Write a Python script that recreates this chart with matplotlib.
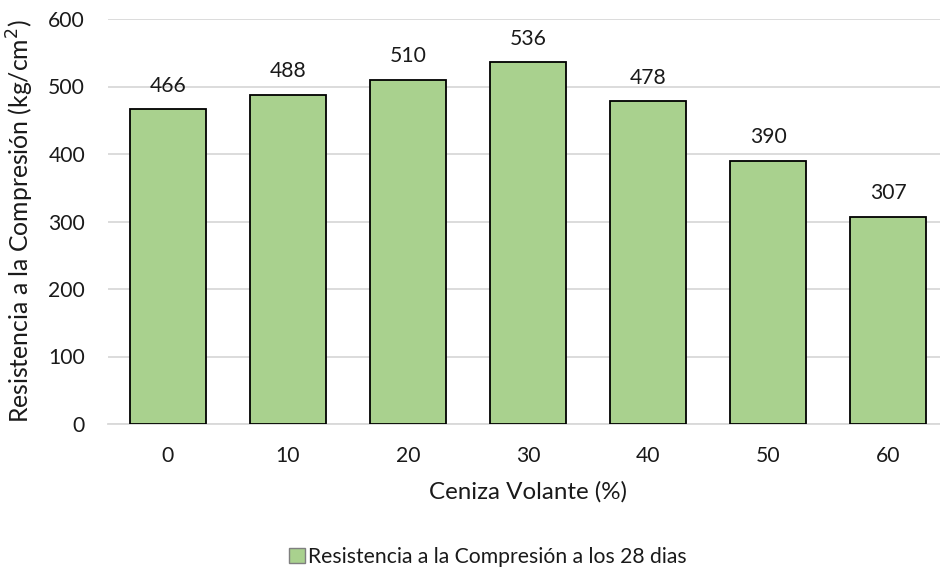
import matplotlib
matplotlib.use("Agg")
import matplotlib.pyplot as plt
from matplotlib.patches import Patch

categories = ["0", "10", "20", "30", "40", "50", "60"]
values = [466, 488, 510, 536, 478, 390, 307]
yticks = [0, 100, 200, 300, 400, 500, 600]
series_name = "Resistencia a la Compresión a los 28 dias"

plt.rcParams['font.family'] = ['Lato', 'DejaVu Sans']
TXT = '#1a1a1a'

fig = plt.figure(figsize=(9.4, 5.76), dpi=100)
ax = fig.add_axes([108/940, 1-424/576, 840/940, 405/576])

x = list(range(len(categories)))
ax.bar(x, values, width=0.633, color='#A9D18E', edgecolor='black', linewidth=1.3, zorder=3)
for xi, v in zip(x, values):
    ax.annotate(str(v), (xi, v), xytext=(0, 12.5), textcoords='offset points',
                ha='center', va='baseline', fontsize=15.2, color=TXT)

ax.set_xlim(-0.5, len(categories) - 0.5)
ax.set_ylim(0, 600)
ax.set_yticks(yticks)
ax.set_xticks(x)
ax.set_xticklabels(categories)
ax.yaxis.grid(True, color='#D9D9D9', linewidth=1.3, zorder=0)
ax.set_axisbelow(True)
for s in ['top', 'right', 'left']:
    ax.spines[s].set_visible(False)
ax.spines['bottom'].set_color('#D9D9D9')
ax.spines['bottom'].set_linewidth(1.3)
ax.tick_params(axis='both', length=0, labelsize=15.2, colors=TXT)
ax.tick_params(axis='y', pad=16.5)
ax.tick_params(axis='x', pad=16)
ax.set_xlabel("Ceniza Volante (%)", fontsize=17.4, labelpad=11, color=TXT)
ax.set_ylabel("Resistencia a la Compresión (kg/cm$^2$)", fontsize=17.8, labelpad=9, color=TXT)

handle = Patch(facecolor='#A9D18E', edgecolor='#7f7f7f', linewidth=1.0)
fig.legend([handle], [series_name], loc='center', bbox_to_anchor=(488/940, 1-557/576),
           frameon=False, fontsize=15.2, handlelength=0.75, handleheight=0.75, handletextpad=0.15,
           labelcolor=TXT)

fig.savefig("out.png", dpi=100)
